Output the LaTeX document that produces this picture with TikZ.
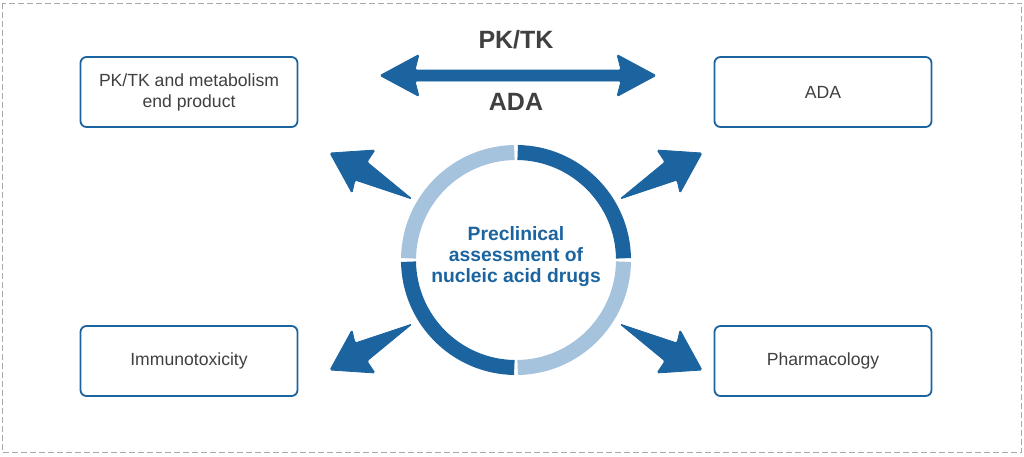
\documentclass[tikz,border=0pt]{standalone}
\usepackage{fontspec}
\setmainfont{Liberation Sans}
\usetikzlibrary{calc}
\definecolor{dblue}{HTML}{1B64A0}
\definecolor{lblue}{HTML}{A5C3DD}
\definecolor{tgray}{HTML}{404040}
\definecolor{frame}{HTML}{A8A8A8}
\tikzset{
  infobox/.style={draw=dblue, line width=1.8pt, rounded corners=6pt, fill=white,
    minimum width=217pt, minimum height=70pt, align=center, text=tgray,
    font=\fontsize{17.6}{21}\selectfont, inner sep=0pt},
  ringseg/.style={line width=15pt},
  bigshape/.style={fill=dblue, draw=dblue, line width=0.8pt, line join=round, rounded corners=1.5pt},
  title/.style={text=tgray, font=\fontsize{25}{28}\selectfont\bfseries, inner sep=0pt, anchor=base}
}
\newcommand{\fatarrow}{%
  \path[bigshape] (-104,-62.5) -- (-149,-99.5) -- (-141,-111.5) -- (-186,-108.5)
    -- (-164,-68.5) -- (-161,-81.5) -- cycle;}
\begin{document}
\begin{tikzpicture}[x=1pt,y=-1pt]
\useasboundingbox (0,0) rectangle (1024,456);
\fill[white] (0,0) rectangle (1024,456);
\draw[frame, dashed, dash pattern=on 6pt off 3pt, line width=0.8pt] (2.5,3) rectangle (1021.5,452.5);

% boxes
\node[infobox] (pk) at (189,92) {PK/TK and metabolism\\end product};
\node[infobox] (ada) at (823,92) {ADA};
\node[infobox] (imm) at (189,361) {Immunotoxicity};
\node[infobox] (pha) at (823,361) {Pharmacology};

% double arrow
\path[bigshape] (380,75.5) -- (419,54.5) -- (415,70) -- (621,70) -- (617,54.5) -- (656,75.5)
  -- (617,96.5) -- (621,81) -- (415,81) -- (419,96.5) -- cycle;
\node[title] (t1) at (516,48) {PK/TK};
\node[title] (t2) at (516,110) {ADA};

% ring
\coordinate (c) at (516,260);
\draw[ringseg, dblue] ([shift={(-89.1:107.5)}]c) arc[start angle=-89.1, end angle=-0.9, radius=107.5];
\draw[ringseg, lblue] ([shift={(0.9:107.5)}]c) arc[start angle=0.9, end angle=89.1, radius=107.5];
\draw[ringseg, dblue] ([shift={(90.9:107.5)}]c) arc[start angle=90.9, end angle=179.1, radius=107.5];
\draw[ringseg, lblue] ([shift={(180.9:107.5)}]c) arc[start angle=180.9, end angle=269.1, radius=107.5];
\node[text=dblue, align=center, font=\fontsize{19.3}{21}\selectfont\bfseries, inner sep=0pt] (ctr) at (516,257)
  {Preclinical\\assessment of\\nucleic acid drugs};

% fat arrows
\begin{scope}[shift={(516,261.5)}]\fatarrow\end{scope}
\begin{scope}[shift={(516,261.5)}, xscale=-1]\fatarrow\end{scope}
\begin{scope}[shift={(516,261.5)}, yscale=-1]\fatarrow\end{scope}
\begin{scope}[shift={(516,261.5)}, xscale=-1, yscale=-1]\fatarrow\end{scope}
\end{tikzpicture}
\end{document}
